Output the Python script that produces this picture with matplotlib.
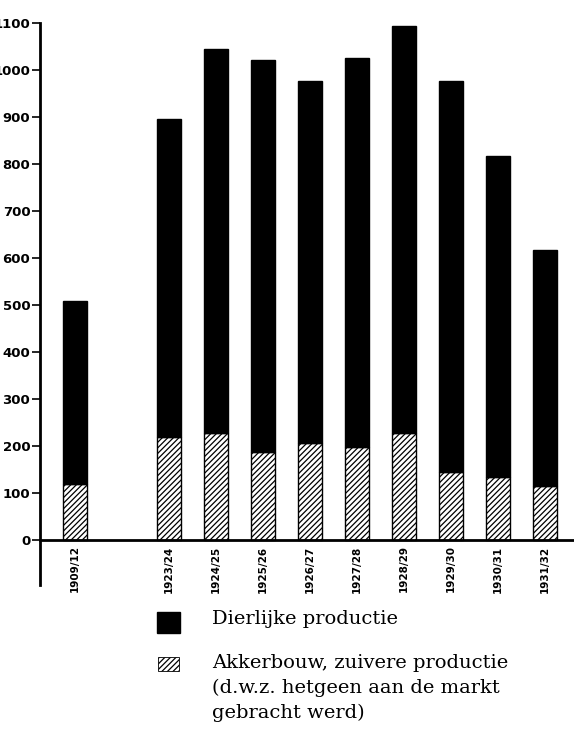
import matplotlib
matplotlib.use("Agg")
import matplotlib.pyplot as plt
import numpy as np

# Data
periods = ["1909/12", "1923/24", "1924/25", "1925/26", "1926/27",
           "1927/28", "1928/29", "1929/30", "1930/31", "1931/32"]
slots = [0, 2, 3, 4, 5, 6, 7, 8, 9, 10]
akkerbouw = [118, 218, 227, 186, 206, 197, 227, 145, 134, 115]
totaal = [509, 896, 1045, 1021, 976, 1025, 1093, 976, 816, 617]
dierlijk = [t - a for t, a in zip(totaal, akkerbouw)]
yticks = [0, 100, 200, 300, 400, 500, 600, 700, 800, 900, 1000, 1100]

legend_dier = "Dierlijke productie"
legend_akker = ["Akkerbouw, zuivere productie",
                "(d.w.z. hetgeen aan de markt",
                "gebracht werd)"]

plt.rcParams['hatch.linewidth'] = 0.9

fig = plt.figure(figsize=(5.74, 7.36), dpi=100)
ax = fig.add_axes([40/574, 1 - 585/736, 1 - 40/574, (585 - 22.7)/736])

w = 0.51
ax.bar(slots, akkerbouw, width=w, color="white", edgecolor="black",
       hatch="//////", linewidth=1.0)
ax.bar(slots, dierlijk, bottom=akkerbouw, width=w, color="black",
       edgecolor="black", linewidth=1.0)

ax.set_xlim(-0.745, 10.62)
ax.set_ylim(-96, 1100)

for s in ["top", "right"]:
    ax.spines[s].set_visible(False)
ax.spines["left"].set_linewidth(2.0)
ax.spines["bottom"].set_position(("data", 0))
ax.spines["bottom"].set_linewidth(2.0)
ax.spines["bottom"].set_zorder(3)

ax.set_yticks(yticks)
ax.set_yticklabels([str(v) for v in yticks], fontsize=9.5, fontweight="bold",
                   family="DejaVu Sans")
ax.tick_params(axis="y", direction="out", length=6, width=1.2, pad=1)

ax.set_xticks(slots)
ax.set_xticklabels(periods, rotation=90, fontsize=7.5, fontweight="bold",
                   family="DejaVu Sans", va="top")
ax.tick_params(axis="x", length=0, pad=4)

# Legend drawn manually
fig.patches.append(plt.Rectangle((157/574, 1 - 633/736), 23/574, 21/736,
                                 transform=fig.transFigure, facecolor="black",
                                 edgecolor="black"))
fig.patches.append(plt.Rectangle((158/574, 1 - 671/736), 21/574, 14/736,
                                 transform=fig.transFigure, facecolor="white",
                                 edgecolor="black", hatch="//////", lw=0.6))
fig.text(212/574, 1 - 619/736, legend_dier, fontsize=14,
         family="DejaVu Serif", va="center", ha="left")
for i, line in enumerate(legend_akker):
    fig.text(212/574, 1 - (663 + 25 * i)/736, line, fontsize=14,
             family="DejaVu Serif", va="center", ha="left")

fig.savefig("out.png", dpi=100)
